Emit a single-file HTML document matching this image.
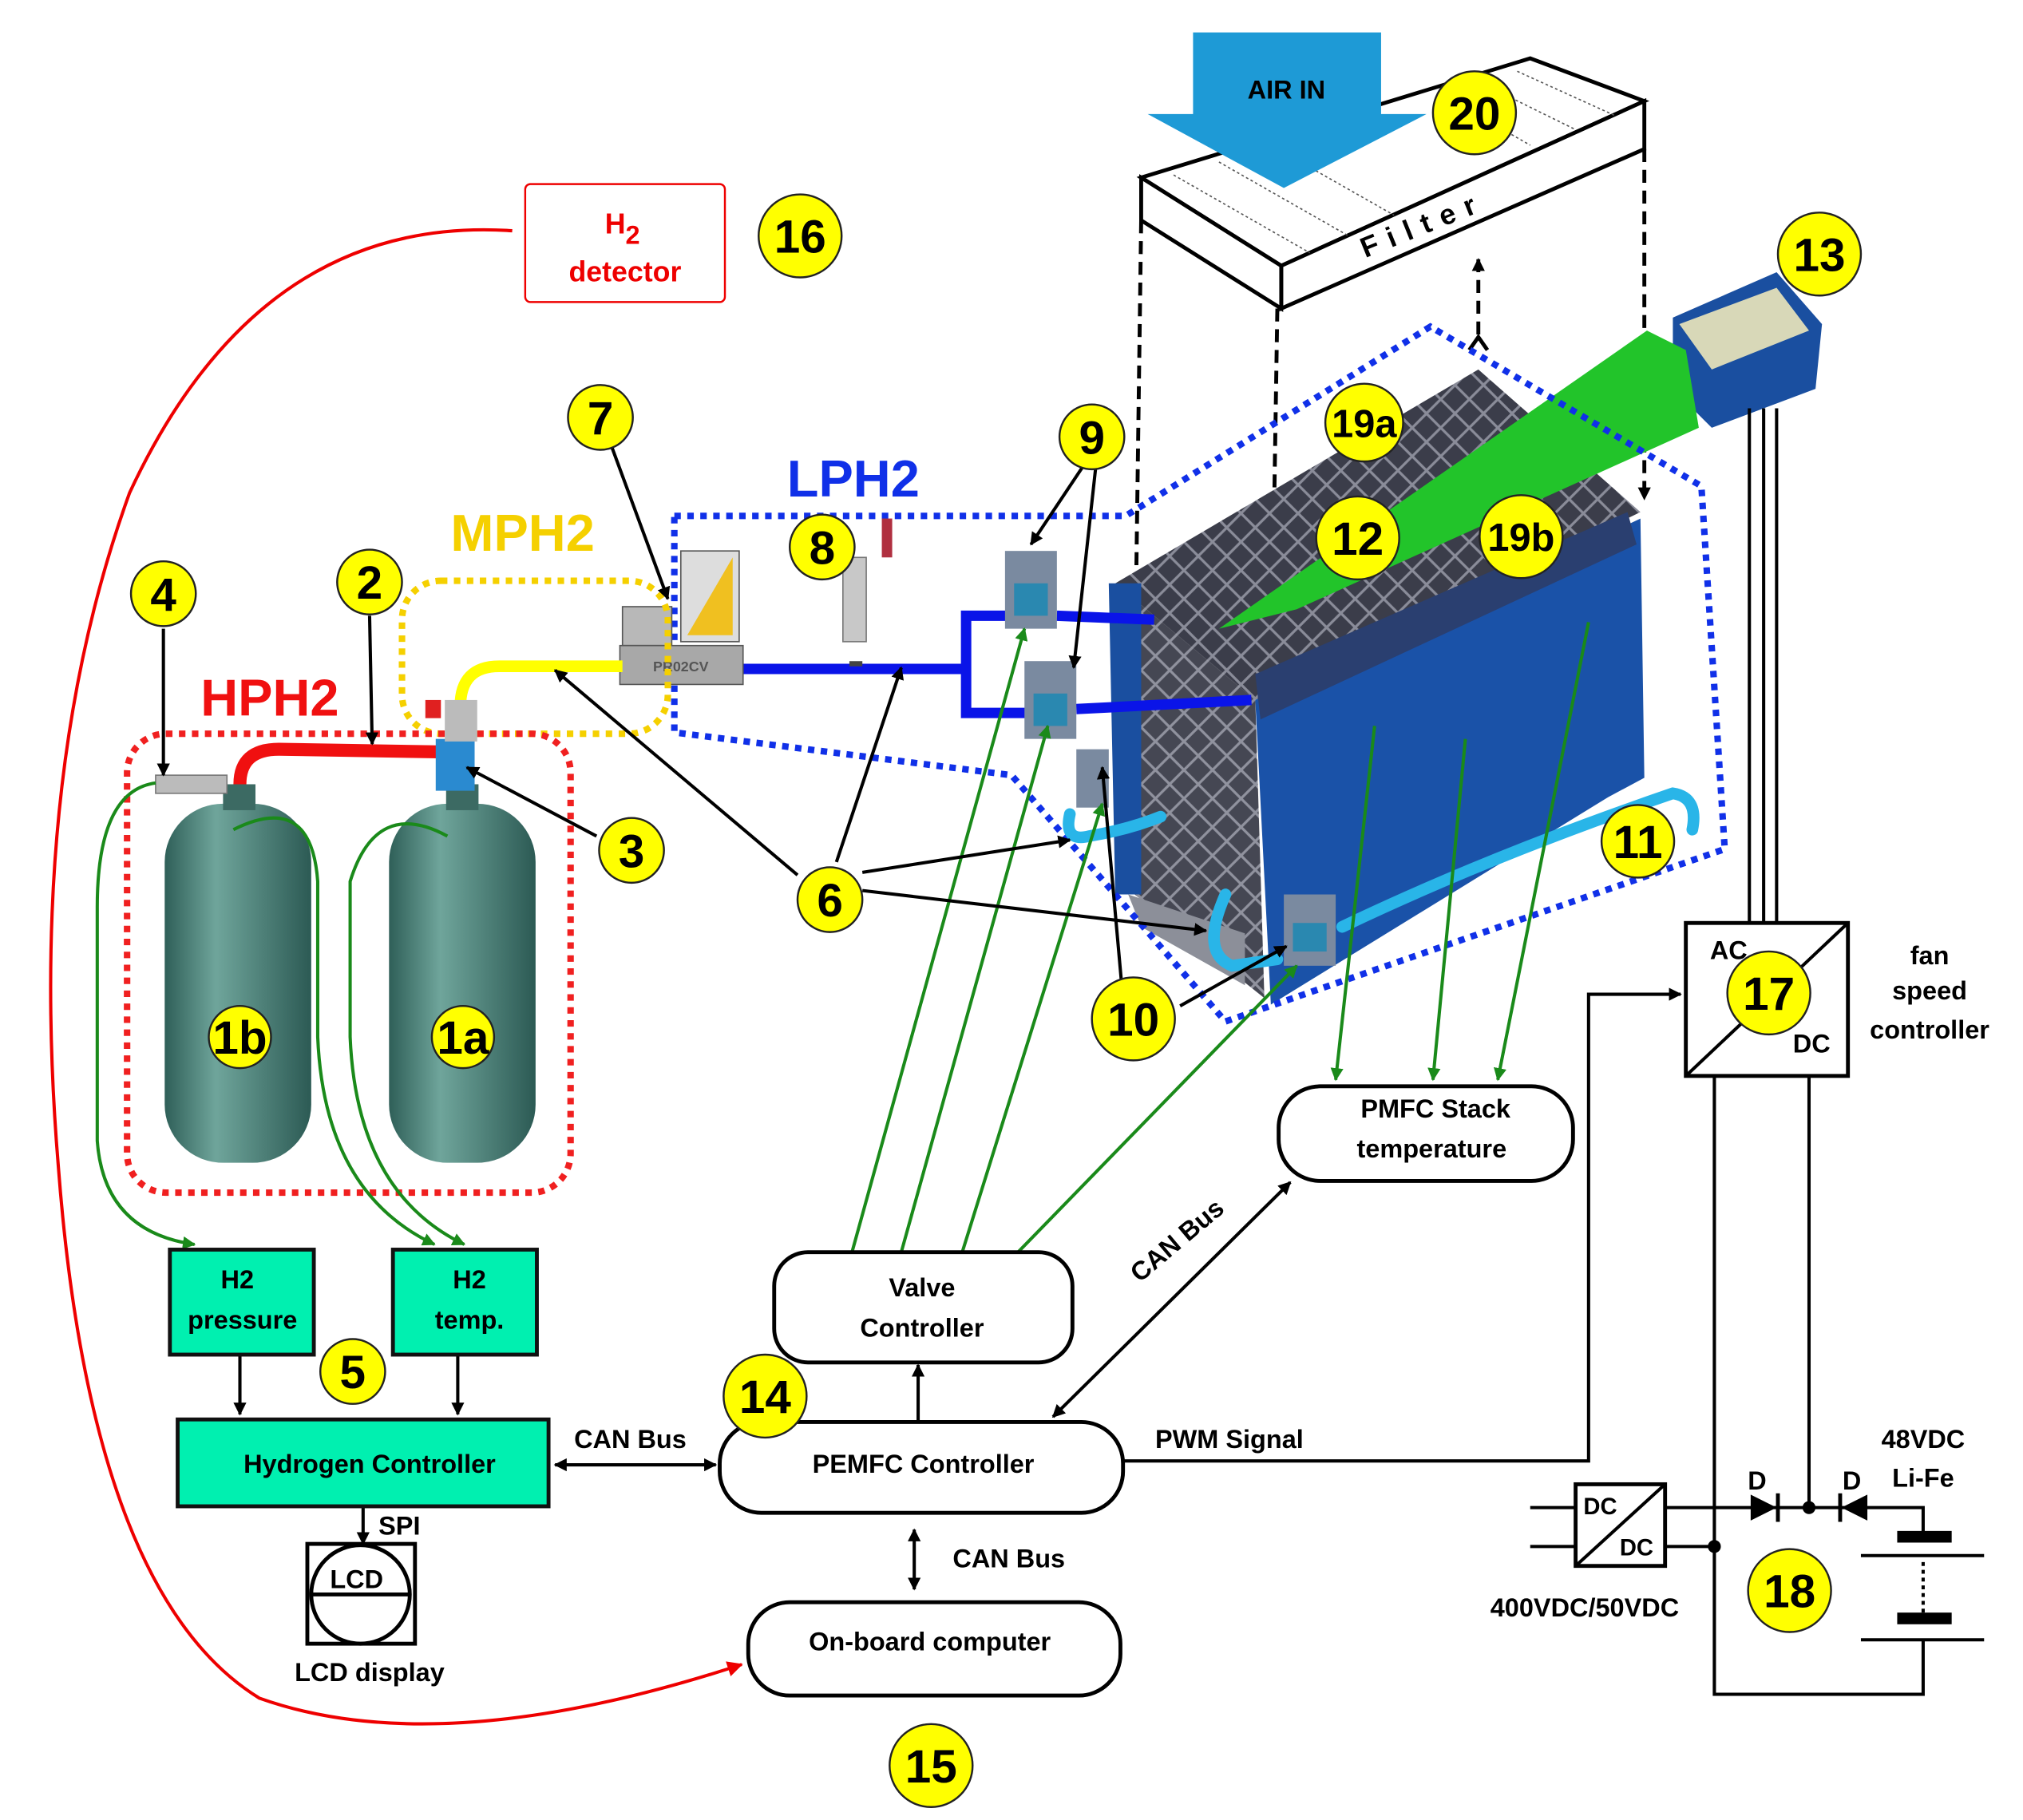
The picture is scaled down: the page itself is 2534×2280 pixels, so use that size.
<!DOCTYPE html>
<html><head><meta charset="utf-8"><style>
html,body{margin:0;padding:0;background:#fff}
svg{display:block}
text{font-family:"Liberation Sans",Arial,sans-serif;font-weight:bold}
</style></head><body>
<svg width="2534" height="2280" viewBox="0 0 1560 1404" preserveAspectRatio="none" xmlns="http://www.w3.org/2000/svg">
<defs>
<marker id="ab" markerWidth="10" markerHeight="10" refX="9" refY="5" orient="auto" markerUnits="userSpaceOnUse"><path d="M0,0 L10,5 L0,10 z" fill="#000"/></marker>
<marker id="ab2" markerWidth="10" markerHeight="10" refX="1" refY="5" orient="auto" markerUnits="userSpaceOnUse"><path d="M10,0 L0,5 L10,10 z" fill="#000"/></marker>
<marker id="ag" markerWidth="10" markerHeight="10" refX="9" refY="5" orient="auto" markerUnits="userSpaceOnUse"><path d="M0,0 L10,5 L0,10 z" fill="#1a8a1a"/></marker>
<marker id="ar" markerWidth="12" markerHeight="12" refX="11" refY="6" orient="auto" markerUnits="userSpaceOnUse"><path d="M0,0 L12,6 L0,12 z" fill="#e00"/></marker>
<linearGradient id="cyl" x1="0" x2="1"><stop offset="0" stop-color="#2f5f58"/><stop offset="0.35" stop-color="#6fa59b"/><stop offset="1" stop-color="#2c5a54"/></linearGradient>
<pattern id="grid" width="22" height="22" patternUnits="userSpaceOnUse"><rect width="22" height="22" fill="#3b3d4a"/><path d="M0,11 L11,0 L22,11 L11,22z" fill="none" stroke="#8a8c99" stroke-width="2"/></pattern>
</defs>

<polygon points="880,137 1180,45 1268,78 988,205" fill="#fff" stroke="#000" stroke-width="3"/>
<polygon points="988,205 1268,78 1268,115 988,238" fill="#fff" stroke="#000" stroke-width="3"/>
<polygon points="880,137 988,205 988,238 880,170" fill="#fff" stroke="#000" stroke-width="3"/>
<g stroke="#555" stroke-width="1" stroke-dasharray="2,2">
<line x1="905" y1="135" x2="1010" y2="195"/><line x1="940" y1="125" x2="1040" y2="182"/><line x1="980" y1="112" x2="1075" y2="166"/><line x1="1110" y1="72" x2="1180" y2="112"/><line x1="1140" y1="63" x2="1215" y2="100"/><line x1="1170" y1="55" x2="1245" y2="89"/></g>
<text x="1100" y="180" font-size="22" transform="rotate(-22 1100 180)" text-anchor="middle" letter-spacing="8">Filter</text>
<polygon points="920,25 1065,25 1065,88 1100,88 990,145 885,88 920,88" fill="#1e9ad6"/>
<text x="992" y="76" font-size="20" text-anchor="middle">AIR IN</text>

<g stroke="#000" stroke-width="3" stroke-dasharray="10,6" fill="none">
<line x1="880" y1="170" x2="876" y2="460" marker-end="url(#ab)"/>
<line x1="985" y1="238" x2="980" y2="550" marker-end="url(#ab)"/>
<line x1="1140" y1="200" x2="1140" y2="258" marker-start="url(#ab2)"/>
<line x1="1268" y1="115" x2="1268" y2="385" marker-end="url(#ab)"/>
</g>
<path d="M1133,270 L1140,260 L1147,270" stroke="#000" stroke-width="3" fill="none"/>

<polygon points="860,450 1140,285 1265,395 968,540" fill="url(#grid)"/>
<polygon points="860,450 968,540 975,770 875,690" fill="url(#grid)" opacity="0.95"/>
<polygon points="855,450 880,450 880,690 860,690" fill="#1a4fa0"/>
<polygon points="968,540 1265,400 1268,600 1240,615 980,775" fill="#1a52a8"/>
<polygon points="968,520 1255,395 1262,420 972,555" fill="#2a3f70"/>
<polygon points="870,690 960,720 960,760 880,715" fill="#8c8f99"/>

<polygon points="1290,245 1370,210 1405,250 1400,300 1320,330 1290,300" fill="#1a4fa0"/>
<polygon points="1295,250 1370,222 1395,255 1320,285" fill="#d8d8b8"/>
<polygon points="940,485 1270,255 1300,270 1310,330 1000,470" fill="#22c42a"/>
<g stroke="#000" stroke-width="2.5"><line x1="1349" y1="315" x2="1349" y2="712"/><line x1="1360" y1="315" x2="1360" y2="712"/><line x1="1370" y1="315" x2="1370" y2="712"/></g>

<polygon points="520,398 868,398 1103,252 1312,375 1330,655 945,788 780,598 520,565" fill="none" stroke="#1030e8" stroke-width="5" stroke-dasharray="5,5"/>
<text x="658" y="383" font-size="40" fill="#1030e8" text-anchor="middle">LPH2</text>

<g stroke="#29b5e8" stroke-width="9" fill="none" stroke-linecap="round">
<path d="M895,630 Q870,640 840,645 Q820,650 825,628"/>
<path d="M945,690 Q925,735 950,745 L985,740"/>
<path d="M1035,715 Q1150,660 1290,612 Q1310,615 1305,640"/>
</g>

<g stroke="#0a14e8" stroke-width="8" fill="none">
<path d="M573,516 L745,516"/>
<path d="M745,516 L745,475 L790,475 M745,516 L745,550 L800,550"/>
<path d="M815,475 L890,478"/>
<path d="M830,547 L965,540"/>
</g>
<g>
<rect x="775" y="425" width="40" height="60" fill="#7a8aa0"/><rect x="782" y="450" width="26" height="25" fill="#2a88b0"/>
<rect x="790" y="510" width="40" height="60" fill="#7a8aa0"/><rect x="797" y="535" width="26" height="25" fill="#2a88b0"/>
<rect x="830" y="578" width="25" height="45" fill="#7a8aa0"/>
<rect x="990" y="690" width="40" height="55" fill="#7a8aa0"/><rect x="997" y="712" width="26" height="22" fill="#2a88b0"/>
</g>
<rect x="650" y="430" width="18" height="65" fill="#c8c8c8" stroke="#777"/>
<rect x="680" y="400" width="8" height="30" fill="#b03040"/>
<line x1="655" y1="512" x2="665" y2="512" stroke="#444" stroke-width="4"/>

<rect x="480" y="468" width="38" height="30" fill="#b8b8b8" stroke="#555"/>
<rect x="478" y="498" width="95" height="30" fill="#a8a8a8" stroke="#555"/>
<text x="525" y="518" font-size="11" fill="#555" font-weight="normal" text-anchor="middle">PR02CV</text>
<rect x="525" y="425" width="45" height="70" fill="#ddd" stroke="#555"/>
<polygon points="530,490 565,430 565,490" fill="#f0c020"/>

<rect x="310" y="448" width="205" height="118" rx="30" fill="none" stroke="#f5d000" stroke-width="5" stroke-dasharray="5,5"/>
<text x="403" y="425" font-size="40" fill="#f5d000" text-anchor="middle">MPH2</text>
<path d="M355,545 Q355,514 385,514 L480,514" stroke="#ffff00" stroke-width="9" fill="none"/>

<rect x="98" y="566" width="342" height="354" rx="30" fill="none" stroke="#f02020" stroke-width="5" stroke-dasharray="5,5"/>
<text x="208" y="552" font-size="40" fill="#f01010" text-anchor="middle">HPH2</text>
<rect x="127" y="620" width="113" height="277" rx="45" fill="url(#cyl)"/>
<rect x="300" y="620" width="113" height="277" rx="45" fill="url(#cyl)"/>
<rect x="172" y="605" width="25" height="20" fill="#3c6a63"/>
<rect x="344" y="605" width="25" height="20" fill="#3c6a63"/>
<path d="M185,605 Q185,578 215,578 L338,580" stroke="#f01010" stroke-width="10" fill="none"/>
<rect x="336" y="570" width="30" height="40" fill="#2a8ad0"/>
<rect x="343" y="540" width="25" height="32" fill="#bbb"/>
<rect x="328" y="540" width="12" height="14" fill="#e02020"/>
<rect x="120" y="598" width="55" height="14" fill="#bbb" stroke="#777"/>

<g stroke="#1a8a1a" stroke-width="2.5" fill="none">
<path d="M120,604 Q75,610 75,700 L75,880 Q80,950 150,960" marker-end="url(#ag)"/>
<path d="M180,640 Q240,610 245,680 L245,800 Q250,920 335,960" marker-end="url(#ag)"/>
<path d="M345,645 Q290,615 270,680 L270,800 Q275,920 358,960" marker-end="url(#ag)"/>
<path d="M657,966 L790,485" marker-end="url(#ag)"/>
<path d="M695,966 L808,560" marker-end="url(#ag)"/>
<path d="M742,966 L850,620" marker-end="url(#ag)"/>
<path d="M785,966 L1000,745" marker-end="url(#ag)"/>
<path d="M1060,560 L1030,833" marker-end="url(#ag)"/>
<path d="M1130,570 L1105,833" marker-end="url(#ag)"/>
<path d="M1225,480 L1155,833" marker-end="url(#ag)"/>
</g>

<g stroke="#000" stroke-width="2.5" fill="none">
<line x1="126" y1="485" x2="126" y2="598" marker-end="url(#ab)"/>
<line x1="285" y1="475" x2="287" y2="574" marker-end="url(#ab)"/>
<line x1="460" y1="645" x2="360" y2="592" marker-end="url(#ab)"/>
<line x1="470" y1="340" x2="515" y2="462" marker-end="url(#ab)"/>
<line x1="835" y1="360" x2="795" y2="420" marker-end="url(#ab)"/>
<line x1="845" y1="360" x2="828" y2="515" marker-end="url(#ab)"/>
<line x1="615" y1="675" x2="428" y2="517" marker-end="url(#ab)"/>
<line x1="645" y1="665" x2="695" y2="515" marker-end="url(#ab)"/>
<line x1="665" y1="673" x2="825" y2="648" marker-end="url(#ab)"/>
<line x1="665" y1="687" x2="930" y2="718" marker-end="url(#ab)"/>
<line x1="865" y1="760" x2="850" y2="592" marker-end="url(#ab)"/>
<line x1="910" y1="776" x2="992" y2="730" marker-end="url(#ab)"/>
<line x1="185" y1="1046" x2="185" y2="1091" marker-end="url(#ab)"/>
<line x1="353" y1="1046" x2="353" y2="1091" marker-end="url(#ab)"/>
<line x1="280" y1="1162" x2="280" y2="1191" marker-end="url(#ab)"/>
<line x1="428" y1="1130" x2="552" y2="1130" marker-end="url(#ab)" marker-start="url(#ab2)"/>
<line x1="708" y1="1097" x2="708" y2="1053" marker-end="url(#ab)"/>
<line x1="705" y1="1180" x2="705" y2="1226" marker-end="url(#ab)" marker-start="url(#ab2)"/>
<line x1="812" y1="1093" x2="995" y2="912" marker-end="url(#ab)" marker-start="url(#ab2)"/>
<path d="M866,1127 L1225,1127 L1225,767 L1296,767" marker-end="url(#ab)"/>
</g>

<path d="M395,178 Q200,165 100,380 Q20,600 45,900 Q70,1230 200,1310 Q340,1360 572,1284" stroke="#e00" stroke-width="2.5" fill="none" marker-end="url(#ar)"/>

<rect x="405" y="142" width="154" height="91" rx="4" fill="#fff" stroke="#e00" stroke-width="1.5"/>
<text x="480" y="180" font-size="22" fill="#e00" text-anchor="middle">H<tspan dy="8" font-size="20">2</tspan></text>
<text x="482" y="217" font-size="22" fill="#e00" text-anchor="middle">detector</text>

<g fill="#00f0b0" stroke="#111" stroke-width="3">
<rect x="131" y="964" width="111" height="81"/><rect x="303" y="964" width="111" height="81"/>
<rect x="137" y="1095" width="286" height="67"/>
</g>
<g font-size="20" text-anchor="middle">
<text x="183" y="994">H2</text><text x="187" y="1025">pressure</text>
<text x="362" y="994">H2</text><text x="362" y="1025">temp.</text>
<text x="285" y="1136">Hydrogen Controller</text>
</g>
<rect x="237" y="1191" width="83" height="77" fill="#fff" stroke="#000" stroke-width="3"/>
<circle cx="278" cy="1230" r="38" fill="none" stroke="#000" stroke-width="3"/>
<line x1="240" y1="1230" x2="316" y2="1230" stroke="#000" stroke-width="3"/>
<text x="275" y="1225" font-size="20" text-anchor="middle">LCD</text>
<text x="308" y="1184" font-size="20" text-anchor="middle">SPI</text>
<text x="285" y="1297" font-size="20" text-anchor="middle">LCD display</text>

<g fill="#fff" stroke="#000" stroke-width="3">
<rect x="597" y="966" width="230" height="85" rx="26"/>
<rect x="555" y="1097" width="311" height="70" rx="32"/>
<rect x="577" y="1236" width="287" height="72" rx="32"/>
<rect x="986" y="838" width="227" height="73" rx="32"/>
</g>
<g font-size="20" text-anchor="middle">
<text x="711" y="1000">Valve</text><text x="711" y="1031">Controller</text>
<text x="712" y="1136">PEMFC Controller</text>
<text x="717" y="1273">On-board computer</text>
<text x="1107" y="862">PMFC Stack</text><text x="1104" y="893">temperature</text>
<text x="486" y="1117">CAN Bus</text>
<text x="778" y="1209">CAN Bus</text>
<text x="948" y="1117">PWM Signal</text>
<text x="912" y="962" transform="rotate(-40 912 962)">CAN Bus</text>
<text x="1488" y="744">fan</text><text x="1488" y="771">speed</text><text x="1488" y="801">controller</text>
<text x="1222" y="1247">400VDC/50VDC</text>
<text x="1483" y="1117">48VDC</text><text x="1483" y="1147">Li-Fe</text>
<text x="1355" y="1149">D</text><text x="1428" y="1149">D</text>
</g>

<rect x="1300" y="712" width="125" height="118" fill="#fff" stroke="#000" stroke-width="3"/>
<line x1="1300" y1="830" x2="1425" y2="712" stroke="#000" stroke-width="2.5"/>
<text x="1333" y="740" font-size="20" text-anchor="middle">AC</text>
<text x="1397" y="812" font-size="20" text-anchor="middle">DC</text>
<rect x="1215" y="1145" width="69" height="63" fill="#fff" stroke="#000" stroke-width="3"/>
<line x1="1215" y1="1208" x2="1284" y2="1145" stroke="#000" stroke-width="2.5"/>
<text x="1234" y="1168" font-size="18" text-anchor="middle">DC</text>
<text x="1262" y="1200" font-size="18" text-anchor="middle">DC</text>
<g stroke="#000" stroke-width="2.5" fill="none">
<path d="M1322,830 L1322,1307 L1483,1307 L1483,1265"/>
<path d="M1395,830 L1395,1163"/>
<path d="M1284,1163 L1470,1163 L1483,1163 L1483,1185"/>
<path d="M1284,1193 L1322,1193"/>
<path d="M1180,1163 L1215,1163 M1180,1193 L1215,1193"/>
<line x1="1435" y1="1200" x2="1530" y2="1200"/>
<line x1="1435" y1="1265" x2="1530" y2="1265"/>
<line x1="1483" y1="1205" x2="1483" y2="1245" stroke-dasharray="3,3"/>
</g>
<rect x="1463" y="1181" width="42" height="9" fill="#000"/>
<rect x="1463" y="1244" width="42" height="9" fill="#000"/>
<polygon points="1350,1153 1370,1163 1350,1173" fill="#000"/><line x1="1371" y1="1152" x2="1371" y2="1174" stroke="#000" stroke-width="3"/>
<polygon points="1440,1153 1420,1163 1440,1173" fill="#000"/><line x1="1419" y1="1152" x2="1419" y2="1174" stroke="#000" stroke-width="3"/>
<circle cx="1395" cy="1163" r="5" fill="#000"/><circle cx="1322" cy="1193" r="5" fill="#000"/>

<g fill="#ffff00" stroke="#222" stroke-width="1.5">
<circle cx="617" cy="182" r="32"/><circle cx="1137" cy="87" r="32"/><circle cx="1403" cy="196" r="32"/>
<circle cx="1052" cy="326" r="30"/><circle cx="1047" cy="415" r="32"/><circle cx="1173" cy="414" r="32"/>
<circle cx="842" cy="337" r="25"/><circle cx="463" cy="322" r="25"/><circle cx="634" cy="422" r="25"/>
<circle cx="126" cy="458" r="25"/><circle cx="285" cy="449" r="25"/><circle cx="487" cy="656" r="25"/>
<circle cx="640" cy="694" r="25"/><circle cx="874" cy="786" r="32"/><circle cx="1263" cy="649" r="28"/>
<circle cx="1364" cy="766" r="32"/><circle cx="1380" cy="1227" r="32"/><circle cx="272" cy="1058" r="25"/>
<circle cx="590" cy="1077" r="32"/><circle cx="718" cy="1362" r="32"/>
<circle cx="185" cy="800" r="24"/><circle cx="357" cy="800" r="24"/>
</g>
<g font-size="36" text-anchor="middle" fill="#000">
<text x="617" y="195">16</text><text x="1137" y="100">20</text><text x="1403" y="209">13</text>
<text x="1052" y="337" font-size="30">19a</text><text x="1047" y="428">12</text><text x="1173" y="425" font-size="30">19b</text>
<text x="842" y="350">9</text><text x="463" y="335">7</text><text x="634" y="435">8</text>
<text x="126" y="471">4</text><text x="285" y="462">2</text><text x="487" y="669">3</text>
<text x="640" y="707">6</text><text x="874" y="799">10</text><text x="1263" y="662">11</text>
<text x="1364" y="779">17</text><text x="1380" y="1240">18</text><text x="272" y="1071">5</text>
<text x="590" y="1090">14</text><text x="718" y="1375">15</text>
<text x="185" y="813">1b</text><text x="357" y="813">1a</text>
</g>
</svg>
</body></html>
